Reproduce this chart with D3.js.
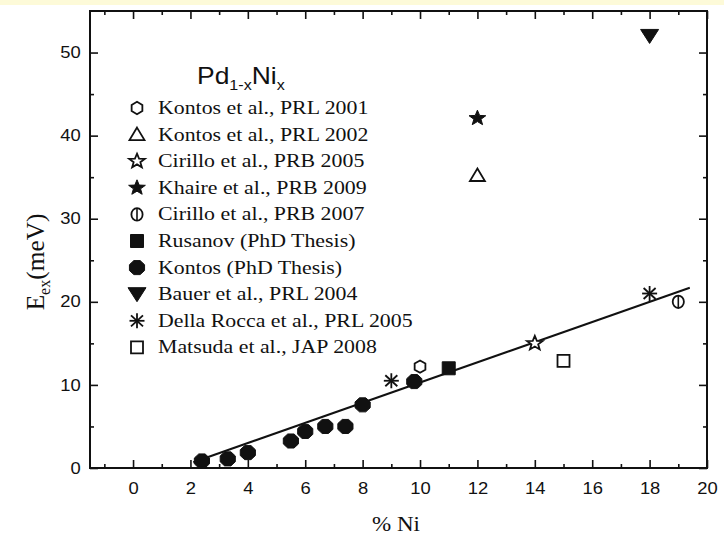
<!DOCTYPE html>
<html>
<head>
<meta charset="utf-8">
<script src="https://cdn.jsdelivr.net/npm/d3@7"></script>
<style>
  body { margin: 0; background: #fff; }
  svg { display: block; }
</style>
</head>
<body>
<svg id="chart" width="724" height="537"></svg>
<script>
// ---- data: exchange energy E_ex (meV) versus Ni concentration (%) ----
const kontosPRL2001   = [[10.0, 12.2]];
const kontosPRL2002   = [[12.0, 35.2]];
const cirilloPRB2005  = [[14.0, 15.0]];
const khairePRB2009   = [[12.0, 42.1]];
const cirilloPRB2007  = [[19.0, 20.0]];
const rusanovThesis   = [[11.0, 12.0]];
const kontosThesis    = [[2.4, 0.85], [3.3, 1.1], [4.0, 1.85], [5.5, 3.25], [6.0, 4.4],
                         [6.7, 5.0], [7.4, 5.0], [8.0, 7.6], [9.8, 10.4]];
const bauerPRL2004    = [[18.0, 52.0]];
const dellaRoccaPRL05 = [[9.0, 10.5], [18.0, 21.0]];
const matsudaJAP2008  = [[15.0, 12.9]];
const linearFit       = [[2.1, 0.7], [19.4, 21.7]];

const legendLabels = [
  "Kontos et al., PRL 2001", "Kontos et al., PRL 2002", "Cirillo et al., PRB 2005",
  "Khaire et al., PRB 2009", "Cirillo et al., PRB 2007", "Rusanov (PhD Thesis)",
  "Kontos (PhD Thesis)", "Bauer et al., PRL 2004", "Della Rocca et al., PRL 2005",
  "Matsuda et al., JAP 2008"
];
const seriesData = [kontosPRL2001, kontosPRL2002, cirilloPRB2005, khairePRB2009,
  cirilloPRB2007, rusanovThesis, kontosThesis, bauerPRL2004, dellaRoccaPRL05, matsudaJAP2008];
const seriesSymbols = ["hexOpen", "triOpen", "starOpen", "starFilled", "circleBar",
  "squareFilled", "octFilled", "triDownFilled", "asterisk", "squareOpen"];

const xMajorTicks = [0, 2, 4, 6, 8, 10, 12, 14, 16, 18, 20];
const xMinorTicks = [-1, 1, 3, 5, 7, 9, 11, 13, 15, 17, 19];
const yMajorTicks = [0, 10, 20, 30, 40, 50];
const yMinorTicks = [5, 15, 25, 35, 45];

// ---- layout ----
const svg = d3.select("#chart");
const W = 724, H = 537;
const plot = { left: 90, right: 707, top: 11, bottom: 468 };
const SX = 1.15;              // horizontal stretch applied to text glyphs
const ink = "#111";
const sans = "'Liberation Sans', Arial, sans-serif";
const serif = "'Liberation Serif', 'Times New Roman', serif";

svg.append("rect").attr("width", W).attr("height", H).attr("fill", "#fff");
svg.append("rect").attr("x", 0).attr("y", 0).attr("width", W).attr("height", 5)
  .attr("fill", "#fdfad8");

const x = d3.scaleLinear().domain([-1.5, 20]).range([plot.left, plot.right]);
const y = d3.scaleLinear().domain([0, 55]).range([plot.bottom, plot.top]);

// ---- axes (ticks point into the plot) ----
function styleAxis(g) {
  g.select(".domain").remove();
  g.selectAll(".tick line").attr("stroke", ink).attr("stroke-width", 1.6);
}
const major = 8, minor = 4;

const gBottom = svg.append("g").attr("transform", `translate(0,${plot.bottom})`)
  .call(d3.axisBottom(x).tickValues(xMajorTicks).tickSizeInner(-major).tickSizeOuter(0)
    .tickPadding(15).tickFormat(d3.format("d")))
  .call(styleAxis);
svg.append("g").attr("transform", `translate(0,${plot.bottom})`)
  .call(d3.axisBottom(x).tickValues(xMinorTicks).tickSizeInner(-minor).tickSizeOuter(0)
    .tickFormat(""))
  .call(styleAxis);
svg.append("g").attr("transform", `translate(0,${plot.top})`)
  .call(d3.axisTop(x).tickValues(xMajorTicks).tickSizeInner(-major).tickSizeOuter(0)
    .tickFormat(""))
  .call(styleAxis);
svg.append("g").attr("transform", `translate(0,${plot.top})`)
  .call(d3.axisTop(x).tickValues(xMinorTicks).tickSizeInner(-minor).tickSizeOuter(0)
    .tickFormat(""))
  .call(styleAxis);

const gLeft = svg.append("g").attr("transform", `translate(${plot.left},0)`)
  .call(d3.axisLeft(y).tickValues(yMajorTicks).tickSizeInner(-major).tickSizeOuter(0)
    .tickPadding(8).tickFormat(d3.format("d")))
  .call(styleAxis);
svg.append("g").attr("transform", `translate(${plot.left},0)`)
  .call(d3.axisLeft(y).tickValues(yMinorTicks).tickSizeInner(-minor).tickSizeOuter(0)
    .tickFormat(""))
  .call(styleAxis);
svg.append("g").attr("transform", `translate(${plot.right},0)`)
  .call(d3.axisRight(y).tickValues(yMajorTicks).tickSizeInner(-major).tickSizeOuter(0)
    .tickFormat(""))
  .call(styleAxis);
svg.append("g").attr("transform", `translate(${plot.right},0)`)
  .call(d3.axisRight(y).tickValues(yMinorTicks).tickSizeInner(-minor).tickSizeOuter(0)
    .tickFormat(""))
  .call(styleAxis);

[gBottom, gLeft].forEach(g => g.selectAll(".tick text")
  .attr("fill", ink).attr("font-family", sans).attr("font-size", 16)
  .attr("transform", `scale(${SX},1)`));

// frame
svg.append("rect")
  .attr("x", plot.left).attr("y", plot.top)
  .attr("width", plot.right - plot.left).attr("height", plot.bottom - plot.top)
  .attr("fill", "none").attr("stroke", ink).attr("stroke-width", 2);

// ---- axis titles ----
svg.append("g").attr("transform", `translate(396,531) scale(${SX},1)`)
  .append("text").attr("text-anchor", "middle").attr("font-family", serif)
  .attr("font-size", 20).attr("fill", ink).text("% Ni");

const yTitle = svg.append("g").attr("transform", `translate(44,262) rotate(-90) scale(1.15,${SX})`)
  .append("text").attr("text-anchor", "middle").attr("font-family", serif)
  .attr("font-size", 22).attr("fill", ink);
yTitle.append("tspan").text("E");
yTitle.append("tspan").attr("font-size", 14).attr("dy", 5).text("ex");
yTitle.append("tspan").attr("dy", -5).text("(meV)");

// ---- compound label ----
const comp = svg.append("g").attr("transform", `translate(197,84) scale(${SX},1)`)
  .append("text").attr("font-family", sans).attr("font-size", 23).attr("fill", ink);
comp.append("tspan").text("Pd");
comp.append("tspan").attr("font-size", 14).attr("dy", 6).text("1-x");
comp.append("tspan").attr("dy", -6).text("Ni");
comp.append("tspan").attr("font-size", 14).attr("dy", 6).text("x");

// ---- marker shapes ----
function polygon(n, rx, ry, rot) {
  const pts = d3.range(n).map(i => {
    const a = rot + i * 2 * Math.PI / n;
    return [rx * Math.cos(a), ry * Math.sin(a)];
  });
  return "M" + pts.map(p => p.join(",")).join("L") + "Z";
}
function star(ro, ri, sx) {
  const pts = d3.range(10).map(i => {
    const r = i % 2 ? ri : ro, a = -Math.PI / 2 + i * Math.PI / 5;
    return [sx * r * Math.cos(a), r * Math.sin(a)];
  });
  return "M" + pts.map(p => p.join(",")).join("L") + "Z";
}
function drawMarker(g, type) {
  const open = { fill: "#fff", stroke: ink, "stroke-width": 1.8 };
  const solid = { fill: ink, stroke: ink, "stroke-width": 1 };
  const add = (d, st) => {
    const p = g.append("path").attr("d", d);
    Object.entries(st).forEach(([k, v]) => p.attr(k, v));
  };
  switch (type) {
    case "hexOpen": add(polygon(6, 6.2, 6.2, -Math.PI / 2), open); break;
    case "triOpen": add("M0,-7L7.5,5.5L-7.5,5.5Z", open); break;
    case "starOpen": add(star(7.5, 3.2, 1.1), open); break;
    case "starFilled": add(star(8, 3.4, 1.1), solid); break;
    case "circleBar":
      g.append("ellipse").attr("rx", 5.6).attr("ry", 6.2)
        .attr("fill", "#fff").attr("stroke", ink).attr("stroke-width", 1.8);
      g.append("line").attr("y1", -6.2).attr("y2", 6.2).attr("stroke", ink).attr("stroke-width", 1.6);
      break;
    case "squareFilled": add("M-6.5,-6.5H6.5V6.5H-6.5Z", solid); break;
    case "octFilled": add(polygon(8, 8.2, 7.6, Math.PI / 8), solid); break;
    case "triDownFilled": add("M-9,-6.5H9L0,7.5Z", solid); break;
    case "asterisk":
      [[0, -7.5, 0, 7.5], [-7.5, 0, 7.5, 0], [-6, -5.5, 6, 5.5], [-6, 5.5, 6, -5.5]]
        .forEach(([a, b, c, d]) => g.append("line").attr("x1", a).attr("y1", b)
          .attr("x2", c).attr("y2", d).attr("stroke", ink).attr("stroke-width", 1.8));
      break;
    case "squareOpen": add("M-6,-6H6V6H-6Z", open); break;
  }
}

// ---- linear fit ----
svg.append("path").datum(linearFit)
  .attr("d", d3.line().x(d => x(d[0])).y(d => y(d[1])))
  .attr("fill", "none").attr("stroke", ink).attr("stroke-width", 2);

// ---- data points ----
seriesData.forEach((data, i) => {
  svg.append("g").selectAll("g").data(data).join("g")
    .attr("transform", d => `translate(${x(d[0])},${y(d[1])})`)
    .each(function () { drawMarker(d3.select(this), seriesSymbols[i]); });
});

// ---- legend ----
const legend = svg.append("g");
legendLabels.forEach((label, i) => {
  const cy = 108 + i * 26.6;
  drawMarker(legend.append("g").attr("transform", `translate(137,${cy})`), seriesSymbols[i]);
  legend.append("g").attr("transform", `translate(158,${cy + 6}) scale(${SX},1)`)
    .append("text").attr("font-family", serif).attr("font-size", 19).attr("fill", ink)
    .text(label);
});
</script>
</body>
</html>
